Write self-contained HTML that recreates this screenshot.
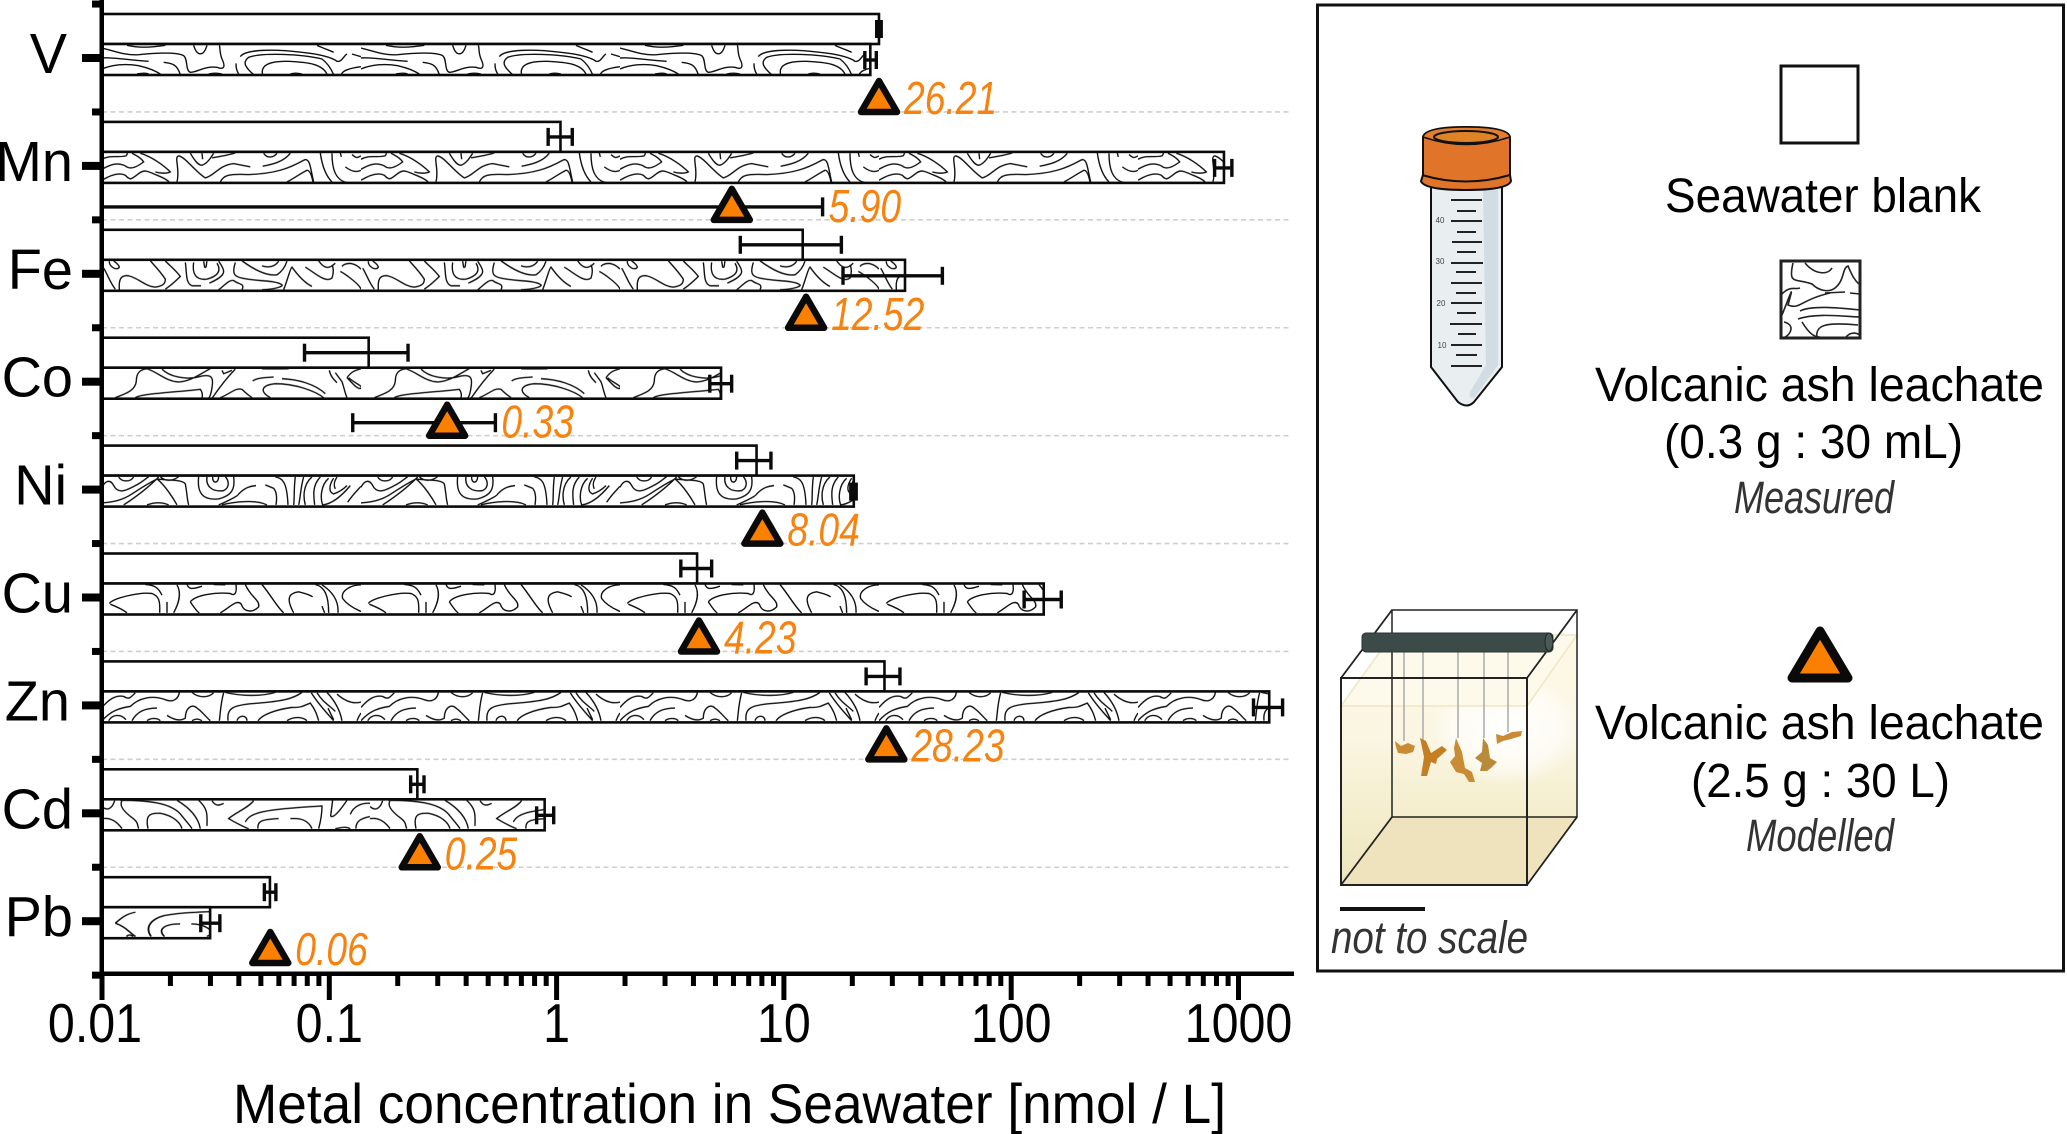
<!DOCTYPE html>
<html lang="en">
<head>
<meta charset="utf-8">
<title>Metal concentration in Seawater</title>
<style>
html,body{margin:0;padding:0;background:#fff;width:2067px;height:1134px;overflow:hidden}
svg{display:block;font-family:"Liberation Sans",Arial,sans-serif}
</style>
</head>
<body>
<svg id="fig" xmlns="http://www.w3.org/2000/svg" width="2067" height="1134" viewBox="0 0 2067 1134">
<defs>
<linearGradient id="waterGrad" x1="0" y1="0" x2="0" y2="1">
<stop offset="0" stop-color="#fdf9e6"/><stop offset=".4" stop-color="#faf6e2"/><stop offset=".75" stop-color="#f3edcb"/><stop offset="1" stop-color="#ede4bd"/>
</linearGradient>
<radialGradient id="glowGrad" cx=".62" cy=".35" r=".42">
<stop offset="0" stop-color="#fff" stop-opacity=".95"/><stop offset=".7" stop-color="#fff" stop-opacity=".6"/><stop offset="1" stop-color="#fff" stop-opacity="0"/>
</radialGradient>
<g id="tile-v" fill="none" stroke="#111" stroke-width="4.2">
<path d="M75 4Q120 15 190 4M0 12C40 22 70 35 110 32C150 28 220 22 245 35C258 45 250 80 265 85C285 85 310 65 345 70C365 78 372 70 360 45C352 25 355 10 352 4M0 42C30 38 70 48 140 52M0 75C30 62 70 58 110 65C140 72 160 80 175 90M185 55C210 58 225 60 235 92M275 4C285 38 305 38 315 4"/>
<path d="M402 58C402 75 405 80 410 90M415 38C430 15 520 15 600 25C650 30 690 40 705 52C720 55 725 35 735 30M455 92C430 70 420 55 440 40C480 25 600 30 660 45C680 60 690 80 695 92M482 92C475 65 500 50 560 52C620 55 660 60 675 90M105 90Q130 85 140 90M320 90Q340 85 360 90M565 90Q580 85 600 90M645 4C670 15 685 20 695 25M718 92C720 80 745 72 777 68M750 30L777 38"/>
</g>
<g id="tile-mn" fill="none" stroke="#111" stroke-width="4.2">
<path d="M0 22C25 8 45 18 72 12C78 6 75 3 75 3M0 52C25 38 45 30 70 42C85 55 105 45 125 30C115 15 100 10 90 4M0 85C25 70 50 60 70 70C85 85 85 85 110 65C130 50 140 60 165 70C190 80 205 90 200 92M115 4C150 15 185 40 205 60C195 65 175 65 160 60"/>
<path d="M225 90C235 50 215 15 230 12C250 15 280 60 310 78C340 70 350 40 395 35L445 45M265 4C280 30 290 40 300 40C315 35 325 20 335 4M300 4L302 22M355 90C365 70 380 65 440 68C520 65 560 50 605 25C625 15 625 50 635 90M555 90C575 80 595 65 615 55C625 55 630 75 633 90M330 18C360 12 380 10 400 3M485 4C495 20 515 18 525 4M482 43C510 38 545 30 565 4"/>
<path d="M655 3C660 40 670 70 690 90M690 4C690 50 700 85 735 92M715 3L718 15M750 8C765 20 765 18 777 12M730 45C750 60 765 62 777 55"/>
</g>
<g id="tile-fe" fill="none" stroke="#111" stroke-width="4.2">
<path d="M5 25C15 40 25 70 40 88M22 4C20 20 45 35 52 22C50 12 40 8 35 3M52 90C50 60 55 45 80 48C110 55 130 80 160 82C185 78 190 70 190 58C175 35 160 20 145 3M190 88C210 75 225 60 235 50C220 30 200 15 190 3"/>
<path d="M250 8C255 40 250 70 270 78L297 78M275 8C270 40 280 62 315 58C345 50 360 35 345 10M305 4L308 22C315 25 312 15 315 4M322 70C340 62 365 50 365 35C365 25 355 12 350 4M350 90C370 75 380 60 395 62C410 75 430 70 420 90M400 8C390 40 395 50 420 55C460 65 520 60 540 75C545 80 520 88 480 90"/>
<path d="M420 3C450 25 490 50 525 45C540 35 550 20 555 4M480 18C500 25 520 20 530 4M545 90C560 50 565 25 570 22C590 50 610 70 630 80M610 22C640 40 670 70 690 55C695 40 695 25 690 15M650 3C665 25 680 30 700 10M725 15C745 5 765 15 777 28M715 35C725 40 770 70 777 88M725 15L720 20"/>
</g>
<g id="tile-co" fill="none" stroke="#111" stroke-width="4.2">
<path d="M40 90C70 78 100 70 103 40C103 15 115 5 135 3C170 15 190 40 230 43C270 40 300 15 325 3M180 4C200 25 250 40 300 25C330 20 335 30 330 60C328 75 325 85 320 92M100 90C120 78 200 75 295 65C305 78 300 88 300 92"/>
<path d="M330 92C345 70 365 40 400 4M360 8L365 18L390 8M355 90C390 75 400 60 420 65C440 85 445 85 450 90M452 40C465 30 490 30 515 28M540 33C590 35 640 50 670 78M505 90C470 70 480 52 520 48C580 48 640 70 665 90M480 3Q520 4 560 3"/>
<path d="M682 8C685 25 695 35 705 45M700 15L720 42C725 55 730 80 735 90M735 30C750 10 760 8 777 3M740 30C755 45 785 55 777 62C765 65 750 45 735 30"/>
</g>
<g id="tile-ni" fill="none" stroke="#111" stroke-width="4.2">
<path d="M0 35C10 15 25 10 35 30C50 60 80 40 100 30C120 20 130 10 140 3M50 4C60 20 85 20 95 4M0 82C30 80 60 75 90 55C120 35 145 20 165 10C190 30 215 70 225 88M65 88C100 65 140 35 170 4M175 3C190 20 215 15 230 3M165 10C190 15 240 10 250 25C255 50 255 70 260 88M135 88Q170 75 200 88"/>
<path d="M290 3C285 50 300 75 350 70C390 60 400 40 395 3M315 3C310 35 335 50 365 45C385 35 380 15 370 3M332 3C330 25 350 25 350 3M350 88C380 75 410 60 410 55C430 35 445 32 462 30M490 28L515 38C525 50 525 70 522 88M360 88C390 80 460 70 495 88M520 4C540 8 555 15 558 88"/>
<path d="M580 4C575 40 578 70 575 88M605 4C595 40 595 70 590 88M630 4C600 30 605 70 610 88M655 4C630 30 635 60 638 88M680 8C655 30 655 70 662 88C690 85 720 60 745 30M695 8C680 30 680 50 695 55C710 50 725 40 735 30M705 4C695 20 695 30 700 40M737 80C750 60 765 45 777 32"/>
</g>
<g id="tile-cu" fill="none" stroke="#111" stroke-width="4.2">
<path d="M22 60C30 45 110 25 150 30C170 38 175 50 173 88M25 62C45 70 65 80 75 88M195 88L195 55M130 3C160 4 170 15 180 35M225 4C240 30 230 60 215 88M255 3C260 15 265 20 300 8M335 3L370 4"/>
<path d="M265 55C280 35 340 25 385 30C400 40 405 25 402 3M265 55C275 70 285 85 292 88M355 88C380 75 405 45 418 62C425 85 450 90 470 70C475 50 445 40 430 3M480 3C510 40 525 70 545 88M575 88C555 50 555 30 590 25C610 30 625 35 632 40"/>
<path d="M640 3C670 10 680 40 680 88M660 4C700 30 710 60 708 88M660 68L668 88M777 4C750 4 715 20 722 45C740 70 770 80 777 84"/>
</g>
<g id="tile-zn" fill="none" stroke="#111" stroke-width="4.2">
<path d="M0 48C20 25 40 10 65 15C80 25 85 20 100 4M0 88C25 60 50 50 85 45C110 20 150 10 190 25C215 35 230 20 232 3M270 3C290 20 320 20 335 4M90 88C105 60 130 50 165 50M20 88C30 70 55 65 72 85M135 88C145 80 165 78 175 88M195 72C215 85 235 90 250 80C250 50 270 35 285 50C300 60 315 80 325 88M270 88Q285 78 300 88"/>
<path d="M365 4C355 40 355 70 352 88M378 88C375 50 390 40 470 35C530 30 570 25 600 3M370 3C420 15 480 15 520 3M405 88C410 70 435 70 435 88M468 88C480 70 520 55 570 48C600 50 610 40 625 35C640 55 645 70 650 88M555 88C575 75 600 75 615 88"/>
<path d="M628 4C650 40 680 70 695 88M645 4C665 35 680 40 700 60M678 50L695 85M675 3C700 30 715 60 720 88M705 8C730 30 755 38 777 32M765 88C770 75 775 68 777 65"/>
</g>
<g id="tile-cd" fill="none" stroke="#111" stroke-width="4.2">
<path d="M0 22C15 35 30 30 38 4M60 4C50 20 70 40 90 55C110 70 105 75 110 88M0 58C20 55 40 60 60 88M55 3C130 3 210 8 240 50C260 75 265 80 270 88M225 3C270 30 290 60 295 88M290 3C320 30 315 50 315 80M138 88C130 50 140 40 175 42C215 50 235 70 240 88M330 4C340 20 350 20 365 12"/>
<path d="M455 4C440 25 400 40 380 58C400 70 430 85 440 88M430 68C445 40 480 30 660 20C660 50 655 70 650 88M468 88C465 65 480 60 530 58M565 58C600 55 620 65 630 88M692 3L686 50C695 60 720 25 735 3M762 88C760 60 790 55 804 52M745 45C755 20 780 10 804 12M700 88C720 85 730 80 745 88"/>
</g>
<g id="tile-pb" fill="none" stroke="#111" stroke-width="4.2">
<path d="M30 48C45 30 55 20 75 15M30 48C55 60 60 75 75 88M110 88C95 60 110 35 140 25C180 15 220 15 265 12C270 40 265 70 260 88M140 88C125 70 135 50 175 50M200 50C230 50 250 70 250 88M55 88C60 80 65 84 70 88M235 88C240 82 245 84 250 88"/>
</g>
<pattern id="hatch-v" patternUnits="userSpaceOnUse" width="259" height="31"><use href="#tile-v" transform="scale(.3333,.3333)"/></pattern>
<pattern id="hatch-mn" patternUnits="userSpaceOnUse" width="259" height="31"><use href="#tile-mn" transform="scale(.3333,.3333)"/></pattern>
<pattern id="hatch-fe" patternUnits="userSpaceOnUse" width="259" height="31"><use href="#tile-fe" transform="scale(.3333,.3333)"/></pattern>
<pattern id="hatch-co" patternUnits="userSpaceOnUse" width="259" height="31"><use href="#tile-co" transform="scale(.3333,.3333)"/></pattern>
<pattern id="hatch-ni" patternUnits="userSpaceOnUse" width="259" height="31"><use href="#tile-ni" transform="scale(.3333,.3333)"/></pattern>
<pattern id="hatch-cu" patternUnits="userSpaceOnUse" width="259" height="31"><use href="#tile-cu" transform="scale(.3333,.3333)"/></pattern>
<pattern id="hatch-zn" patternUnits="userSpaceOnUse" width="259" height="31"><use href="#tile-zn" transform="scale(.3333,.3333)"/></pattern>
<pattern id="hatch-cd" patternUnits="userSpaceOnUse" width="268" height="31"><use href="#tile-cd" transform="scale(.3333,.3333)"/></pattern>
<pattern id="hatch-pb" patternUnits="userSpaceOnUse" width="259" height="31"><use href="#tile-pb" transform="scale(.4466,.3333)"/></pattern>
</defs>

<g id="grid"></g>
<g id="bars"></g>
<g id="errs"></g>
<g id="marks"></g>
<g id="axes"></g>

<text x="233" y="1123" font-size="56" textLength="993" lengthAdjust="spacingAndGlyphs" fill="#000">Metal concentration in Seawater [nmol / L]</text>

<g>
<rect x="1317.5" y="5" width="746" height="966" fill="#fff" stroke="#111" stroke-width="3"/>

<g>
<path d="M1431 180V367L1458 402Q1467 409 1474 402L1502 367V180Z" fill="#e9eff1" stroke="#111" stroke-width="2"/>
<path d="M1483 190H1498V365L1475 397Q1468 400 1470 392L1486 365Z" fill="#d1dde2"/>
<g stroke="#222" stroke-width="2">
<path d="M1451 200H1482M1457 211H1476M1451 221H1482M1457 232H1476M1452 242H1482M1457 252H1476M1451 263H1483M1456 272H1476M1451 283H1482M1456 293H1476M1451 303H1482M1457 313H1476M1450 324H1482M1458 334H1476M1451 345H1482M1456 355H1477M1451 366H1482"/>
</g>
<g font-size="8" fill="#444" text-anchor="middle">
<text x="1440" y="223">40</text>
<text x="1440" y="264">30</text>
<text x="1441" y="306">20</text>
<text x="1442" y="348">10</text>
</g>
<path d="M1423 137Q1425 127 1466 127Q1508 127 1510 137V175L1511 181Q1508 190 1466 190Q1424 190 1421 181L1423 175Z" fill="#e0752a" stroke="#111" stroke-width="2"/>
<path d="M1422 175Q1466 188 1510 175" fill="none" stroke="#111" stroke-width="2"/>
<path d="M1423 137Q1466 152 1510 137Q1508 127 1466 127Q1425 127 1423 137Z" fill="#e37f2c" stroke="#111" stroke-width="1.5"/>
<ellipse cx="1466" cy="137" rx="32" ry="6" fill="#df8327" stroke="#111" stroke-width="2"/>
</g>

<rect x="1781" y="66" width="77" height="77" fill="#fff" stroke="#111" stroke-width="3"/>
<text x="1665" y="212" font-size="48" textLength="316" lengthAdjust="spacingAndGlyphs">Seawater blank</text>

<g>
<rect x="1781" y="261" width="79" height="77" fill="#fff" stroke="#222" stroke-width="3"/>
<path fill="none" stroke="#222" stroke-width="1.6" d="M1793 263C1788 285 1795 278 1812 284C1820 292 1830 292 1835 288C1845 280 1842 268 1848 266C1852 275 1854 280 1860 285M1805 263C1815 275 1828 275 1832 268M1781 295C1790 285 1795 290 1800 288M1782 315C1790 295 1795 280 1788 305C1800 310 1800 300 1830 293M1825 293L1845 292M1850 293L1860 294M1800 311C1812 305 1840 308 1860 310M1798 319C1815 313 1840 316 1860 317M1802 322C1810 335 1815 337 1820 337M1817 338C1815 325 1825 322 1858 325M1845 338C1850 332 1855 332 1860 335M1784 322C1796 325 1790 335 1785 337"/>
</g>
<text x="1595" y="401" font-size="48" textLength="449" lengthAdjust="spacingAndGlyphs">Volcanic ash leachate</text>
<text x="1664" y="458" font-size="48" textLength="299" lengthAdjust="spacingAndGlyphs">(0.3 g : 30 mL)</text>
<text x="1734" y="513" font-size="45" font-style="italic" fill="#333" textLength="160" lengthAdjust="spacingAndGlyphs">Measured</text>

<g>
<path d="M1341 706L1392 635H1577V817L1527 885H1341Z" fill="url(#waterGrad)"/>
<rect x="1392" y="680" width="185" height="137" fill="url(#glowGrad)"/>
<path d="M1341 885L1392 817H1577L1527 885Z" fill="#eee3bd"/>
<path d="M1341 706L1392 635H1577L1527 706Z" fill="#fdfaec" stroke="#f0e6c0" stroke-width="1.5"/>
<path d="M1392 610V817H1577V610Z" fill="none" stroke="#222" stroke-width="1.5"/>
<path d="M1404 651V741M1423 651V740M1458 651V738M1484 651V738M1508 651V732" stroke="#aaa" stroke-width="1.5" fill="none"/>
<g fill="#c98c34">
<path d="M1395 741L1401 746 1408 743 1415 746 1413 752 1406 754 1398 753 1396 747Z"/>
<path d="M1420 738L1426 741 1431 753 1442 746 1447 750 1437 759 1436 764 1431 762 1427 776 1421 776 1424 757Z" fill="#c47f25"/>
<path d="M1456 738L1462 752 1465 768 1472 772 1475 782 1469 782 1464 774 1456 772 1450 762 1455 756 1454 748Z"/>
<path d="M1483 738L1488 745 1490 758 1497 762 1491 768 1487 771 1480 771 1482 763 1475 758 1482 752Z" fill="#b98a3a"/>
<path d="M1496 734L1503 736 1512 732 1522 731 1521 736 1511 739 1503 741 1497 744Z"/>
</g>
<path d="M1341 678L1392 610M1527 678L1577 610M1341 885L1392 817M1527 885L1577 817" fill="none" stroke="#222" stroke-width="1.8"/>
<rect x="1341" y="678" width="186" height="207" fill="none" stroke="#222" stroke-width="2"/>
<rect x="1362" y="633" width="191" height="19" rx="4" fill="#3c4b48" stroke="#2a3533" stroke-width="1"/>
<ellipse cx="1549" cy="642" rx="4" ry="9" fill="#4a5a57" stroke="#1e2725" stroke-width="1"/>
</g>
<path d="M1820 631L1848 678H1792Z" fill="#fb8000" stroke="#0a0a0a" stroke-width="9" stroke-linejoin="round"/>
<text x="1595" y="739" font-size="48" textLength="449" lengthAdjust="spacingAndGlyphs">Volcanic ash leachate</text>
<text x="1691" y="797" font-size="48" textLength="259" lengthAdjust="spacingAndGlyphs">(2.5 g : 30 L)</text>
<text x="1746" y="851" font-size="45" font-style="italic" fill="#333" textLength="148" lengthAdjust="spacingAndGlyphs">Modelled</text>
<rect x="1340" y="907" width="85" height="4" fill="#111"/>
<text x="1331" y="953" font-size="45" font-style="italic" fill="#333" textLength="197" lengthAdjust="spacingAndGlyphs">not to scale</text>
</g>
</svg>

<script>
const metals = ["V","Mn","Fe","Co","Ni","Cu","Zn","Cd","Pb"];
const hatchIds = ["hatch-v","hatch-mn","hatch-fe","hatch-co","hatch-ni","hatch-cu","hatch-zn","hatch-cd","hatch-pb"];
const blankValues = [26.2,1.04,12.1,0.149,7.58,4.15,27.7,0.244,0.0548];
const blankLow = [25.6,0.918,6.43,0.0778,6.2,3.52,23,0.228,0.0518];
const blankHigh = [26.8,1.172,17.9,0.222,8.77,4.81,32.4,0.261,0.0582];
const ashValues = [24.0,863,34.1,5.29,20.3,139,1365,0.886,0.0299];
const ashLow = [22.7,785,18.2,4.72,19.7,114,1164,0.817,0.0272];
const ashHigh = [25.5,935,49.8,5.89,20.8,166,1563,0.971,0.033];
const modelValues = [26.21,5.90,12.52,0.33,8.04,4.23,28.23,0.25,0.055];
const modelLow = [null,0.01,null,0.1268,null,null,null,null,null];
const modelHigh = [null,14.8,null,0.538,null,null,null,null,null];
const modelLabels = ["26.21","5.90","12.52","0.33","8.04","4.23","28.23","0.25","0.06"];
const xTickValues = [0.01,0.1,1,10,100,1000];
const xTickLabels = ["0.01","0.1","1","10","100","1000"];
const xMinorMultipliers = [2,3,4,5,6,7,8,9];

const NS = "http://www.w3.org/2000/svg";
const X0 = 102, DECADE = 227.3, Y0 = 58, ROW = 107.9, AXIS_Y = 974;
function xScale(v){ return X0 + (Math.log10(v) + 2) * DECADE; }
function yScale(i){ return Y0 + ROW * i; }
function make(parent, tag, attrs, text){
  const el = document.createElementNS(NS, tag);
  for (const k in attrs) el.setAttribute(k, attrs[k]);
  if (text !== undefined) el.textContent = text;
  parent.appendChild(el);
  return el;
}
const gGrid = document.getElementById("grid");
const gBars = document.getElementById("bars");
const gErrs = document.getElementById("errs");
const gMarks = document.getElementById("marks");
const gAxes = document.getElementById("axes");

function errorBar(low, high, y, capH, w){
  const g = make(gErrs, "g", {stroke:"#0a0a0a","stroke-width":w, fill:"none"});
  const a = Math.max(X0, xScale(low)), b = xScale(high);
  make(g, "line", {x1:a, x2:b, y1:y, y2:y});
  if (xScale(low) > X0) make(g, "line", {x1:a, x2:a, y1:y-capH/2, y2:y+capH/2});
  make(g, "line", {x1:b, x2:b, y1:y-capH/2, y2:y+capH/2});
  return g;
}

metals.forEach(function(m, i){
  const y = yScale(i);

  const blank = make(gBars, "rect", {x:X0, y:y-44, width:xScale(blankValues[i])-X0, height:30, fill:"#fff", stroke:"#0a0a0a", "stroke-width":2.6});
  
  

  document.getElementById(hatchIds[i]).setAttribute("patternTransform", "translate(" + X0 + "," + (y-14) + ")");
  const ashBg = make(gBars, "rect", {x:X0, y:y-14, width:xScale(ashValues[i])-X0, height:31, fill:"#fff"});
  
  
  const ash = make(gBars, "rect", {x:X0, y:y-14, width:xScale(ashValues[i])-X0, height:31, fill:"url(#" + hatchIds[i] + ")", stroke:"#0a0a0a", "stroke-width":2.6});
  
  

  const e1 = errorBar(blankLow[i], blankHigh[i], y-29, 18, 3.4);
  
  
  const e2 = errorBar(ashLow[i], ashHigh[i], y+2, 18, 3.4);
  
  

  const my = Math.min(y + 41, AXIS_Y - 24), mx = xScale(modelValues[i]);
  let labelX = mx + 25;
  if (modelLow[i] !== null){
    const e3 = errorBar(modelLow[i], modelHigh[i], my, 19, 3.4);
    
    
    labelX = xScale(modelHigh[i]) + 6;
  }
  const tri = make(gMarks, "path", {d:"M"+mx+" "+(my-18)+"L"+(mx+18)+" "+(my+13)+"H"+(mx-18)+"Z", fill:"#fb8000", stroke:"#0a0a0a", "stroke-width":6.5, "stroke-linejoin":"round"});
  
  

  const lab = make(gMarks, "text", {transform:"translate(" + labelX + "," + (my+15) + ") scale(.81,1)", "font-size":46, "font-style":"italic", fill:"#f7820f"}, modelLabels[i]);
  
  

  const tick = make(gAxes, "rect", {x:82, y:y-4, width:X0-82, height:8, fill:"#000"});
  
  

  const yRight = (m === "V" || m === "Ni") ? 67 : (m === "Zn" ? 70 : 73);
  const yl = make(gAxes, "text", {transform:"translate(" + yRight + "," + (y+15) + ") scale(.98,1)", "text-anchor":"end", "font-size":57, fill:"#000"}, m);
  
  
});

for (let i = -0.5; i < metals.length; i += 1){
  const y = yScale(i);
  const minor = make(gAxes, "rect", {x:92, y:y-3.5, width:X0-92, height:7, fill:"#000"});
  
  
  if (i > 0 && i < metals.length - 1){
    const gl = make(gGrid, "line", {x1:X0, x2:1290, y1:y, y2:y, stroke:"#cfcfcf", "stroke-width":1.6, "stroke-dasharray":"5 3.5"});
    
    
  }
}

const yLine = make(gAxes, "rect", {x:X0-2.5, y:0, width:4.5, height:AXIS_Y+2, fill:"#000"});


const xLine = make(gAxes, "rect", {x:X0-2.5, y:AXIS_Y-2.5, width:1294-X0+2.5, height:4.5, fill:"#000"});



xTickValues.forEach(function(v, i){
  const x = xScale(v);
  const t = make(gAxes, "rect", {x:x-2.5, y:AXIS_Y, width:5, height:26, fill:"#000"});
  
  
  const labelX = i === 0 ? x - 7 : x;
  const tl = make(gAxes, "text", {transform:"translate(" + labelX + ",1042) scale(.88,1)", "text-anchor":"middle", "font-size":55, fill:"#000"}, xTickLabels[i]);
  
  
  if (i < xTickValues.length - 1){
    xMinorMultipliers.forEach(function(k){
      const mn = make(gAxes, "rect", {x:xScale(v*k)-2.5, y:AXIS_Y, width:5, height:12, fill:"#000"});
      
      
    });
  }
});
</script>
</body>
</html>
